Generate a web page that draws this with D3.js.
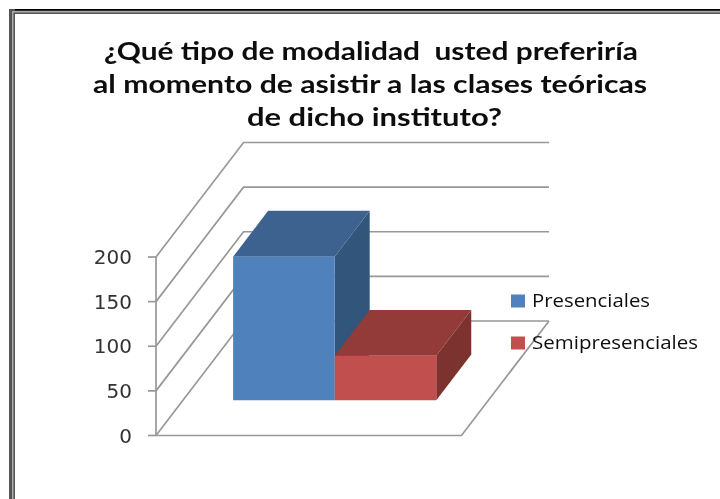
<!DOCTYPE html>
<html>
<head>
<meta charset="utf-8">
<script src="https://cdn.jsdelivr.net/npm/d3@7"></script>
<style>
html, body { margin: 0; padding: 0; background: #fff; }
svg { display: block; }
</style>
</head>
<body>
<svg id="chart"></svg>
<script>
var titleLines = [
  "¿Qué tipo de modalidad  usted preferiría",
  "al momento de asistir a las clases teóricas",
  "de dicho instituto?"
];
var series = ["Presenciales", "Semipresenciales"];
var values = [161, 50];
var colors = ["#4f81bd", "#c0504d"];
var topColors = ["#3d6290", "#923b38"];
var sideColors = ["#32547b", "#7b302e"];
var ticks = [0, 50, 100, 150, 200];

var width = 720,
    height = 499;

var svg = d3.select("#chart")
    .attr("width", width)
    .attr("height", height);

// soft edges, the reference is a scaled up screenshot
var soft = svg.append("defs").append("filter").attr("id", "soft");
soft.append("feGaussianBlur").attr("stdDeviation", 0.35);

// picture frame, only top and left are visible
var frame = svg.append("g");
frame.append("rect").attr("x", 9).attr("y", 9).attr("width", 711).attr("height", 5).attr("fill", "#555");
frame.append("rect").attr("x", 9).attr("y", 9).attr("width", 711).attr("height", 1.5).attr("fill", "#000");
frame.append("rect").attr("x", 9).attr("y", 9).attr("width", 6).attr("height", 490).attr("fill", "#555");
frame.append("rect").attr("x", 12).attr("y", 11).attr("width", 708).attr("height", 1.5).attr("fill", "#aaa");
frame.append("rect").attr("x", 12).attr("y", 11).attr("width", 1.5).attr("height", 488).attr("fill", "#aaa");

var chart = svg.append("g").attr("filter", "url(#soft)");

// 3d box: x along the floor, y is the value, z goes into the picture
var x = d3.scaleLinear().domain([0, 1]).range([156, 461.5]);
var y = d3.scaleLinear().domain([0, 200]).range([435.5, 257]);
var zx = d3.scaleLinear().domain([0, 1]).range([0, 87.5]);
var zy = d3.scaleLinear().domain([0, 1]).range([0, -114.5]);

function project(px, v, z) {
  return [x(px) + zx(z), y(v) + zy(z)];
}

var band = d3.scaleBand().domain(series).range([0.1645, 0.8295]).padding(0);
var zFront = 0.307,
    zBack = 0.707;

var line = d3.line();
var gridColor = "#989898";

// walls
var walls = chart.append("g")
    .attr("fill", "none")
    .attr("stroke", gridColor)
    .attr("stroke-width", 1.7);

walls.selectAll(".wall")
    .data(ticks)
    .enter().append("path")
      .attr("class", "wall")
      .attr("d", function(d) {
        return line([project(0, d, 0), project(0, d, 1), project(1, d, 1)]);
      });

walls.append("path")
    .attr("d", line([project(0, 0, 0), project(1, 0, 0), project(1, 0, 1)]));

walls.append("path")
    .attr("d", line([project(0, 0, 0), project(0, 200, 0)]));

walls.selectAll(".tick")
    .data(ticks)
    .enter().append("path")
      .attr("class", "tick")
      .attr("d", function(d) {
        var p = project(0, d, 0);
        return line([[p[0] - 8, p[1]], p]);
      });

// bars
var bars = chart.selectAll(".bar")
    .data(series)
    .enter().append("g")
      .attr("class", "bar");

function poly(pts) { return line(pts) + "Z"; }

bars.append("path")
    .attr("fill", function(d, i) { return sideColors[i]; })
    .attr("d", function(d, i) {
      var r = band(d) + band.bandwidth();
      return poly([project(r, 0, zFront), project(r, 0, zBack), project(r, values[i], zBack), project(r, values[i], zFront)]);
    });

bars.append("path")
    .attr("fill", function(d, i) { return topColors[i]; })
    .attr("d", function(d, i) {
      var l = band(d), r = l + band.bandwidth();
      return poly([project(l, values[i], zFront), project(r, values[i], zFront), project(r, values[i], zBack), project(l, values[i], zBack)]);
    });

bars.append("path")
    .attr("fill", function(d, i) { return colors[i]; })
    .attr("d", function(d, i) {
      var l = band(d), r = l + band.bandwidth();
      return poly([project(l, 0, zFront), project(r, 0, zFront), project(r, values[i], zFront), project(l, values[i], zFront)]);
    });

// text
var titleBase = [60, 93, 126],
    titleLeft = [104, 93, 247],
    titleLen = [534, 554, 255];

chart.selectAll(".title")
    .data(titleLines)
    .enter().append("text")
      .attr("class", "title")
      .attr("x", function(d, i) { return titleLeft[i]; })
      .attr("y", function(d, i) { return titleBase[i]; })
      .attr("textLength", function(d, i) { return titleLen[i]; })
      .attr("lengthAdjust", "spacingAndGlyphs")
      .style("white-space", "pre")
      .attr("font-family", "Lato")
      .attr("font-weight", 700)
      .attr("font-size", 24)
      .attr("fill", "#111")
      .text(function(d) { return d; });

chart.selectAll(".label")
    .data(ticks)
    .enter().append("text")
      .attr("class", "label")
      .attr("x", 132)
      .attr("y", function(d) { return y(d) + 7; })
      .attr("text-anchor", "end")
      .attr("font-family", "DejaVu Sans")
      .attr("font-size", 20)
      .attr("fill", "#333")
      .text(function(d) { return d; });

var legendY = d3.scalePoint().domain(series).range([301, 343]);
var legendLen = [118, 166];

var legend = chart.selectAll(".legend")
    .data(series)
    .enter().append("g")
      .attr("class", "legend");

legend.append("rect")
    .attr("x", 511)
    .attr("y", function(d) { return legendY(d) - 6.5; })
    .attr("width", 14)
    .attr("height", 13)
    .attr("fill", function(d, i) { return colors[i]; });

legend.append("text")
    .attr("x", 532)
    .attr("y", function(d) { return legendY(d) + 6; })
    .attr("textLength", function(d, i) { return legendLen[i]; })
    .attr("lengthAdjust", "spacingAndGlyphs")
    .attr("font-family", "Open Sans")
    .attr("font-size", 18)
    .attr("fill", "#111")
    .text(function(d) { return d; });
</script>
</body>
</html>
